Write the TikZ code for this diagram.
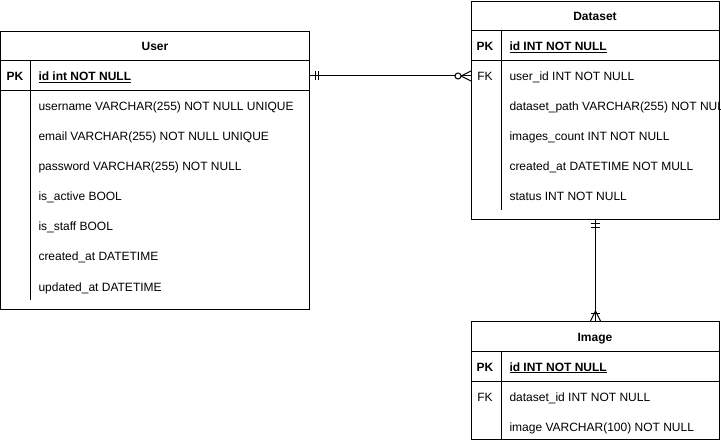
\documentclass[tikz,border=0pt]{standalone}
\usepackage{fontspec}
\setmainfont{Liberation Sans}
\usetikzlibrary{positioning}
\tikzset{
  tbl/.style={draw, line width=1pt, inner sep=0pt},
  title/.style={anchor=base, inner sep=0pt, font=\bfseries\fontsize{12}{14}\selectfont},
  fld/.style={anchor=base west, inner sep=0pt, font=\fontsize{12}{14}\selectfont},
  key/.style={anchor=base, inner sep=0pt, font=\fontsize{12}{14}\selectfont},
}
\begin{document}
\begin{tikzpicture}[x=1pt,y=-1pt,line width=1pt]
\useasboundingbox (0,0) rectangle (721,441);

% User
\node[tbl, minimum width=309pt, minimum height=278pt] (user) at (155,170.5) {};
\node[title] (userT) at (155,51) {User};
\draw (0.5,61) -- (309.5,61);
\draw (0.5,91) -- (309.5,91);
\draw (30,61) -- (30,300);
\node[key, font=\bfseries\fontsize{12}{14}\selectfont] (userPK) at (15,81) {PK};
\node[fld, font=\bfseries\fontsize{12}{14}\selectfont] (userId) at (38,81) {\underline{id int NOT NULL}};
\foreach \f [count=\i from 0] in {username VARCHAR(255) NOT NULL UNIQUE, email VARCHAR(255) NOT NULL UNIQUE, password VARCHAR(255) NOT NULL, is\_active BOOL, is\_staff BOOL, created\_at DATETIME, updated\_at DATETIME}
  \node[fld] (user-f\i) at (38,111+30*\i) {\f};

% Dataset
\node[tbl, minimum width=248pt, minimum height=218pt] (dataset) at (595.5,110.5) {};
\node[title] (datasetT) at (595,21) {Dataset};
\draw (471.5,31) -- (719.5,31);
\draw (471.5,61) -- (719.5,61);
\draw (501,31) -- (501,210);
\node[key, font=\bfseries\fontsize{12}{14}\selectfont] (datasetPK) at (485,51) {PK};
\node[fld, font=\bfseries\fontsize{12}{14}\selectfont] (datasetId) at (509,51) {\underline{id INT NOT NULL}};
\node[key] (datasetFK) at (485,81) {FK};
\foreach \f [count=\i from 0] in {user\_id INT NOT NULL, dataset\_path VARCHAR(255) NOT NULL, images\_count INT NOT NULL, created\_at DATETIME NOT MULL, status INT NOT NULL}
  \node[fld] (dataset-f\i) at (509,81+30*\i) {\f};

% Image
\node[tbl, minimum width=248pt, minimum height=118pt] (image) at (595.5,380.5) {};
\node[title] (imageT) at (595,341) {Image};
\draw (471.5,351) -- (719.5,351);
\draw (471.5,381) -- (719.5,381);
\draw (501,351) -- (501,440);
\node[key, font=\bfseries\fontsize{12}{14}\selectfont] (imagePK) at (485,371) {PK};
\node[fld, font=\bfseries\fontsize{12}{14}\selectfont] (imageId) at (509,371) {\underline{id INT NOT NULL}};
\node[key] (imageFK) at (485,401) {FK};
\node[fld] (image-f0) at (509,401) {dataset\_id INT NOT NULL};
\node[fld] (image-f1) at (509,431) {image VARCHAR(100) NOT NULL};

% User 1 -- 0..n Dataset
\coordinate (u1) at (user.east |- 0,76);
\coordinate (d1) at (dataset.west |- 0,76);
\draw (u1) -- (d1);
\draw ([xshift=5pt]u1) ++(0,-4.5) -- ++(0,9);
\draw ([xshift=8pt]u1) ++(0,-4.5) -- ++(0,9);
\draw[fill=white] ([xshift=-13pt]d1) circle (3pt);
\draw ([xshift=-10pt]d1) -- ([yshift=5pt]d1);
\draw ([xshift=-10pt]d1) -- ([yshift=-5pt]d1);

% Dataset 1 -- 1..n Image
\coordinate (d2) at (dataset.south);
\coordinate (i2) at (image.north);
\draw (d2) -- (i2);
\draw ([yshift=-4pt]d2) ++(-4.5,0) -- ++(9,0);
\draw ([yshift=-8pt]d2) ++(-4.5,0) -- ++(9,0);
\draw ([yshift=8pt]i2) ++(-4.5,0) -- ++(9,0);
\draw ([yshift=10pt]i2) -- ([xshift=-5pt]i2);
\draw ([yshift=10pt]i2) -- ([xshift=5pt]i2);
\end{tikzpicture}
\end{document}
